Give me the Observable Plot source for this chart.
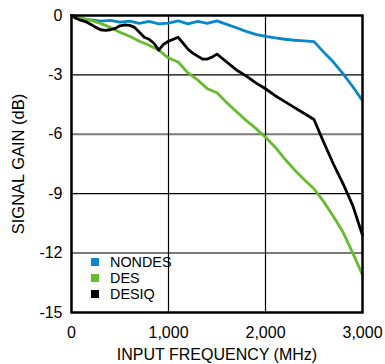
<!DOCTYPE html>
<html>
<head>
<meta charset="utf-8">
<script src="https://cdn.jsdelivr.net/npm/d3@7"></script>
<script src="https://cdn.jsdelivr.net/npm/@observablehq/plot@0.6"></script>
<style>
  html, body { margin: 0; padding: 0; background: #fff; }
  #wrap { position: relative; width: 385px; height: 364px; font-family: "Liberation Sans", Arial, sans-serif; }
  #legend { position: absolute; left: 91px; top: 254px; font-size: 14.4px; color: #000; line-height: 16px; }
  #legend .row { display: flex; align-items: center; height: 16px; }
  #legend .sw { width: 8px; height: 8px; margin-right: 11px; }
</style>
</head>
<body>
<div id="wrap"><div id="legend"></div></div>
<script>
const seriesNames = ["NONDES", "DES", "DESIQ"];
const seriesColors = ["#0a87c8", "#66bb2e", "#000000"];
const xTitle = "INPUT FREQUENCY (MHz)";
const yTitle = "SIGNAL GAIN (dB)";

const freqNondes = [0,100,200,300,400,500,600,700,800,900,1000,1100,1200,1300,1400,1500,1600,1700,1800,1900,2000,2100,2200,2300,2400,2500,2600,2700,2800,2900,3000];
const gainNondes = [0,-0.2,-0.22,-0.28,-0.25,-0.33,-0.28,-0.4,-0.3,-0.42,-0.38,-0.27,-0.42,-0.3,-0.4,-0.27,-0.45,-0.62,-0.8,-0.95,-1.05,-1.13,-1.2,-1.25,-1.28,-1.32,-1.85,-2.35,-2.95,-3.6,-4.3];

const freqDes = [0,100,200,300,400,500,600,700,800,900,1000,1100,1200,1300,1400,1500,1600,1700,1800,1900,2000,2100,2200,2300,2400,2500,2600,2700,2800,2900,3000];
const gainDes = [0,-0.12,-0.25,-0.4,-0.6,-0.85,-1.05,-1.3,-1.5,-1.75,-2.15,-2.35,-2.9,-3.25,-3.7,-3.9,-4.4,-4.85,-5.3,-5.7,-6.15,-6.65,-7.25,-7.8,-8.3,-8.75,-9.4,-10.15,-10.95,-12.0,-13.1];

const freqDesiq = [0,50,100,150,200,250,300,350,400,450,500,550,600,650,700,750,800,850,900,950,1000,1050,1100,1150,1200,1250,1300,1350,1400,1450,1500,1600,1700,1800,1900,2000,2100,2200,2300,2400,2500,2600,2700,2800,2900,3000];
const gainDesiq = [0,-0.15,-0.25,-0.32,-0.45,-0.6,-0.72,-0.75,-0.72,-0.65,-0.52,-0.47,-0.5,-0.6,-0.85,-1.1,-1.2,-1.4,-1.75,-1.45,-1.3,-1.2,-1.1,-1.4,-1.7,-1.9,-2.05,-2.2,-2.2,-2.1,-1.95,-2.35,-2.75,-3.05,-3.4,-3.7,-4.05,-4.35,-4.65,-4.95,-5.25,-6.4,-7.5,-8.5,-9.6,-11.1];

const xTicks = [0, 1000, 2000, 3000];
const yTicks = [0, -3, -6, -9, -12, -15];
const gridBlackY = [-3, -9];
const gridGrayY = [-6, -12];
const gridX = [1000, 2000];

const toRows = (name, fs, gs) => fs.map((f, i) => ({series: name, f, g: gs[i]}));
const rows = [
  ...toRows("NONDES", freqNondes, gainNondes),
  ...toRows("DES", freqDes, gainDes),
  ...toRows("DESIQ", freqDesiq, gainDesiq)
];

const chart = Plot.plot({
  width: 385,
  height: 364,
  marginLeft: 71,
  marginRight: 23,
  marginTop: 15,
  marginBottom: 52,
  style: {fontFamily: "Liberation Sans, Arial, sans-serif", fontSize: "16px", color: "#000", background: "#fff", overflow: "visible"},
  x: {domain: [0, 3000], ticks: xTicks, tickFormat: d3.format(","), tickSize: 0, tickPadding: 14, label: null},
  y: {domain: [-15, 0], ticks: yTicks, tickFormat: d => String(d), tickSize: 0, tickPadding: 9, label: null},
  color: {domain: seriesNames, range: seriesColors},
  marks: [
    Plot.ruleY(gridBlackY, {stroke: "#000", strokeWidth: 1.2}),
    Plot.ruleY(gridGrayY, {stroke: "#7a7a7a", strokeWidth: 2}),
    Plot.ruleX(gridX, {stroke: "#000", strokeWidth: 1.2}),
    Plot.line(rows, {x: "f", y: "g", z: "series", stroke: "series", strokeWidth: 2.8, strokeLinejoin: "round"}),
    Plot.frame({stroke: "#000", strokeWidth: 2.5}),
    Plot.text([xTitle], {text: d => d, frameAnchor: "bottom", textAnchor: "middle", lineAnchor: "bottom", dy: 47, fontSize: 16, fill: "#000"}),
    Plot.text([yTitle], {text: d => d, frameAnchor: "left", textAnchor: "middle", lineAnchor: "middle", rotate: -90, dx: -53, fontSize: 16.5, fill: "#000"})
  ]
});

document.getElementById("wrap").prepend(chart);

const legend = document.getElementById("legend");
seriesNames.forEach((n, i) => {
  const row = document.createElement("div");
  row.className = "row";
  const sw = document.createElement("div");
  sw.className = "sw";
  sw.style.background = seriesColors[i];
  const t = document.createElement("span");
  t.textContent = n;
  row.append(sw, t);
  legend.append(row);
});
</script>
</body>
</html>
